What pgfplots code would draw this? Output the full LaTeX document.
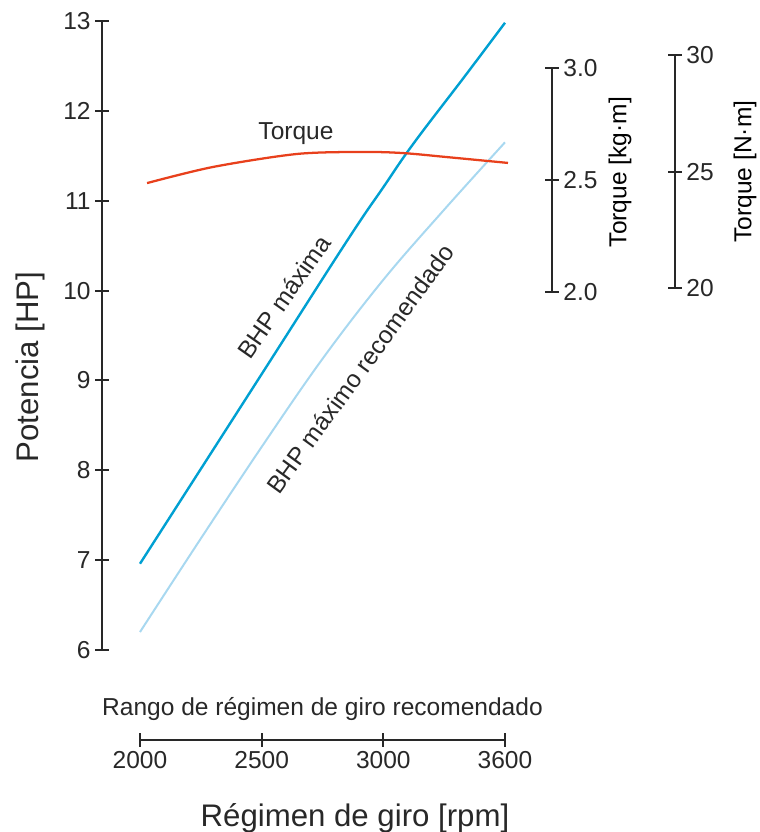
\documentclass[border=0pt]{standalone}
\usepackage{fontspec}
\setmainfont{Liberation Sans}
\usepackage{pgfplots}
\pgfplotsset{compat=1.18}

\definecolor{bhpmax}{RGB}{0,160,210}
\definecolor{bhprec}{RGB}{168,216,240}
\definecolor{torq}{RGB}{232,64,28}
\definecolor{axc}{RGB}{40,40,40}

\newcommand\smallf{\fontsize{18.4pt}{22pt}\selectfont}
\newcommand\bigf{\fontsize{23.4pt}{28pt}\selectfont}

\pgfplotsset{
  every non boxed x axis/.append style={x axis line style={-}},
  every non boxed y axis/.append style={y axis line style={-}},
  base/.style={scale only axis, anchor=south west, clip=false,
     axis line style={line width=1.4pt, draw=axc, -},
     tick style={line width=1.4pt, draw=axc},
     major tick length=10pt, tick align=center,
     tick label style={font=\smallf, text=axc},
     label style={text=axc},
     /pgf/number format/assume math mode=true},
  rpm/.style={x coord trafo/.code={\pgfmathparse{(##1<=3000)?((##1-2000)/500):(2+(##1-3000)/600)}}},
  nolinetips/.style={x axis line style={-}, y axis line style={-}},
}

\begin{document}
\begin{tikzpicture}
\path[use as bounding box] (0,0) rectangle (570pt,624pt);

% Power axis (HP)
\begin{axis}[base, rpm,
  at={(76.5pt,136.5pt)}, width=302.25pt, height=471.75pt,
  xmin=1843.9, xmax=3600, ymin=6, ymax=13,
  axis x line=none, axis y line=left,
  ytick={6,...,13},
  ylabel={Potencia [HP]},
  ylabel style={font=\bigf, at={(rel axis cs:-0.1787,0.45)}, anchor=center},
  nolinetips,
]
\addplot[bhpmax, line width=1.8pt, smooth, tension=0.7] coordinates {
  (2000,6.96) (2500,9.07) (2850,10.55) (3000,11.15)
  (3150,11.64) (3400,12.38) (3600,12.98)};
\addplot[bhprec, line width=1.5pt, smooth, tension=0.6] coordinates {
  (2000,6.20) (2250,7.24) (2500,8.26) (2750,9.24) (3000,10.12)
  (3300,10.90) (3600,11.65)};
\node[font=\smallf, text=axc] at (axis cs:2641,11.75) {Torque};
\node[font=\smallf, text=axc, rotate=55] at (axis cs:2592,9.93) {BHP máxima};
\node[font=\smallf, text=axc, rotate=54] at (axis cs:2905,9.13) {BHP máximo recomendado};
\end{axis}

% Torque axis (kg m) with torque curve
\begin{axis}[base, rpm,
  at={(105pt,405.2pt)}, width=309pt, height=168pt,
  xmin=2000, xmax=3831, ymin=2, ymax=3,
  axis x line=none, axis y line=right,
  ytick={2,2.5,3},
  yticklabel style={/pgf/number format/.cd, fixed, fixed zerofill, precision=1},
  ylabel={Torque [kg·m]},
  ylabel style={font=\smallf, at={(rel axis cs:1.165,0.534)}, anchor=center},
  nolinetips,
]
\addplot[torq, line width=1.7pt, smooth, tension=0.5] coordinates {
  (2029,2.485) (2300,2.557) (2645,2.615) (2916,2.624) (3097,2.619)
  (3314,2.601) (3614,2.575)};
\end{axis}

% Torque axis (N m)
\begin{axis}[base,
  at={(498.75pt,407.8pt)}, width=7.5pt, height=175pt,
  xmin=0, xmax=1, ymin=20, ymax=30,
  axis x line=none, axis y line=right,
  ytick={20,25,30},
  ylabel={Torque [N·m]},
  ylabel style={font=\smallf, at={(rel axis cs:8.0,0.5)}, anchor=center},
  nolinetips,
]
\end{axis}

% rpm axis
\begin{axis}[base, rpm,
  at={(105pt,69pt)}, width=273.75pt, height=7.5pt,
  xmin=2000, xmax=3600, ymin=0, ymax=1,
  axis x line=bottom, axis y line=none,
  xtick={2000,2500,3000,3600},
  xticklabels={2000,2500,3000,3600},
  xlabel={Régimen de giro [rpm]},
  xlabel style={font=\bigf, at={(rel axis cs:0.589,-8.7)}, anchor=base},
  nolinetips,
]
\node[font=\smallf, text=axc, anchor=base] at (rel axis cs:0.5,2.5) {Rango de régimen de giro recomendado};
\end{axis}
\end{tikzpicture}
\end{document}
